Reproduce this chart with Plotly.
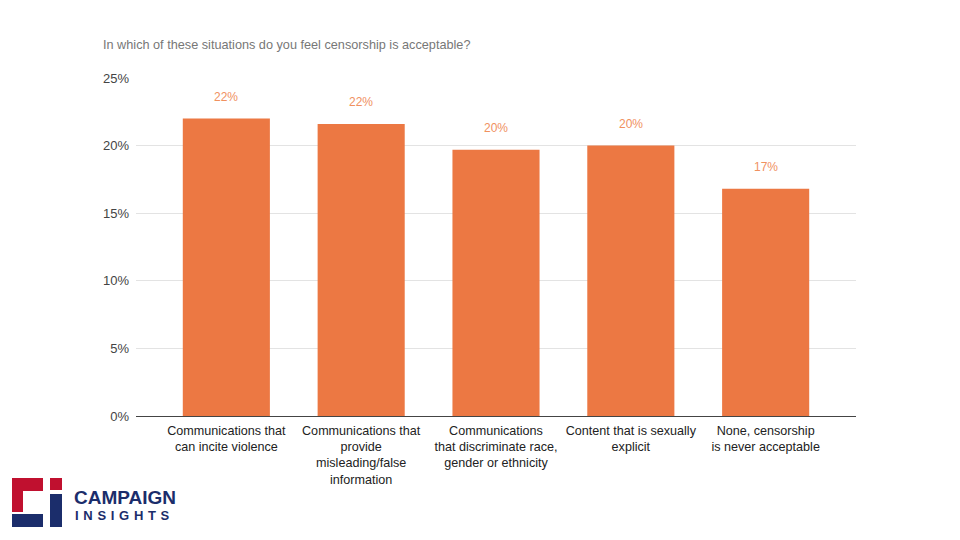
import plotly.graph_objects as go

categories = [
    "Communications that<br>can incite violence",
    "Communications that<br>provide<br>misleading/false<br>information",
    "Communications<br>that discriminate race,<br>gender or ethnicity",
    "Content that is sexually<br>explicit",
    "None, censorship<br>is never acceptable",
]
values = [0.220, 0.216, 0.197, 0.200, 0.168]
value_labels = ["22%", "22%", "20%", "20%", "17%"]
y_ticks = [0, 0.05, 0.10, 0.15, 0.20, 0.25]
y_tick_labels = ["0%", "5%", "10%", "15%", "20%", "25%"]
title_text = "In which of these situations do you feel censorship is acceptable?"

BAR = "#EC7843"
LABEL = "#F0915F"
NAVY = "#1B2D6B"
RED = "#C0102F"
FONT = "Liberation Sans, Arial"

fig = go.Figure()
fig.add_trace(go.Bar(
    x=list(range(len(categories))),
    y=values,
    marker=dict(color=BAR, line=dict(width=0)),
    width=0.646,
    hoverinfo="skip",
))

for i, (v, t) in enumerate(zip(values, value_labels)):
    fig.add_annotation(x=i, y=v, text=t, showarrow=False, yshift=22,
                       font=dict(family=FONT, size=12, color=LABEL))

# logo (page pixel targets converted to paper coords of plot area 136..856 x 78..416)
def rect(x0, y0, x1, y1, color):
    fig.add_shape(type="rect", xref="paper", yref="paper",
                  x0=(x0 - 136) / 720, x1=(x1 - 136) / 720,
                  y0=(416 - y1) / 338, y1=(416 - y0) / 338,
                  fillcolor=color, line=dict(width=0), layer="above")

rect(12, 478, 43, 491, RED)
rect(12, 478, 23, 512, RED)
rect(12, 514, 43, 527, NAVY)
rect(50, 478, 62, 490, RED)
rect(50, 494, 62, 527, NAVY)

fig.add_annotation(xref="paper", yref="paper", x=(72 - 136) / 720, y=(416 - 498) / 338,
                   xanchor="left", yanchor="middle", showarrow=False,
                   text="<b>CAMPAIGN</b>",
                   font=dict(family=FONT, size=19, color=NAVY))
fig.add_annotation(xref="paper", yref="paper", x=(73 - 136) / 720, y=(416 - 515) / 338,
                   xanchor="left", yanchor="middle", showarrow=False,
                   text="<b>" + " \u200a".join("INSIGHTS") + "</b>",
                   font=dict(family=FONT, size=13, color=NAVY))

# the page body adds an 8px offset, so margins compensate
fig.update_layout(
    width=960, height=540,
    margin=dict(l=128, r=112, t=70, b=132),
    paper_bgcolor="white", plot_bgcolor="white",
    showlegend=False,
    title=dict(text=title_text, x=(103 - 8) / 960, xref="container", xanchor="left",
               y=1 - (45 - 8) / 540, yref="container", yanchor="middle",
               font=dict(family=FONT, size=12.7, color="#777777")),
    xaxis=dict(
        tickmode="array", tickvals=list(range(len(categories))), ticktext=categories,
        range=[-0.67, 4.67], showgrid=False, zeroline=False, showline=False,
        ticks="", ticklabelstandoff=5,
        tickfont=dict(family=FONT, size=12.6, color="#222222"),
        fixedrange=True,
    ),
    yaxis=dict(
        range=[0, 0.25], tickmode="array", tickvals=y_ticks, ticktext=y_tick_labels,
        showgrid=True, gridcolor="#E3E3E3", gridwidth=1,
        zeroline=True, zerolinecolor="#444444", zerolinewidth=1,
        showline=False, ticks="", ticklabelstandoff=6,
        tickfont=dict(family=FONT, size=13, color="#444444"),
        fixedrange=True,
    ),
)

fig.write_html("out.html")
